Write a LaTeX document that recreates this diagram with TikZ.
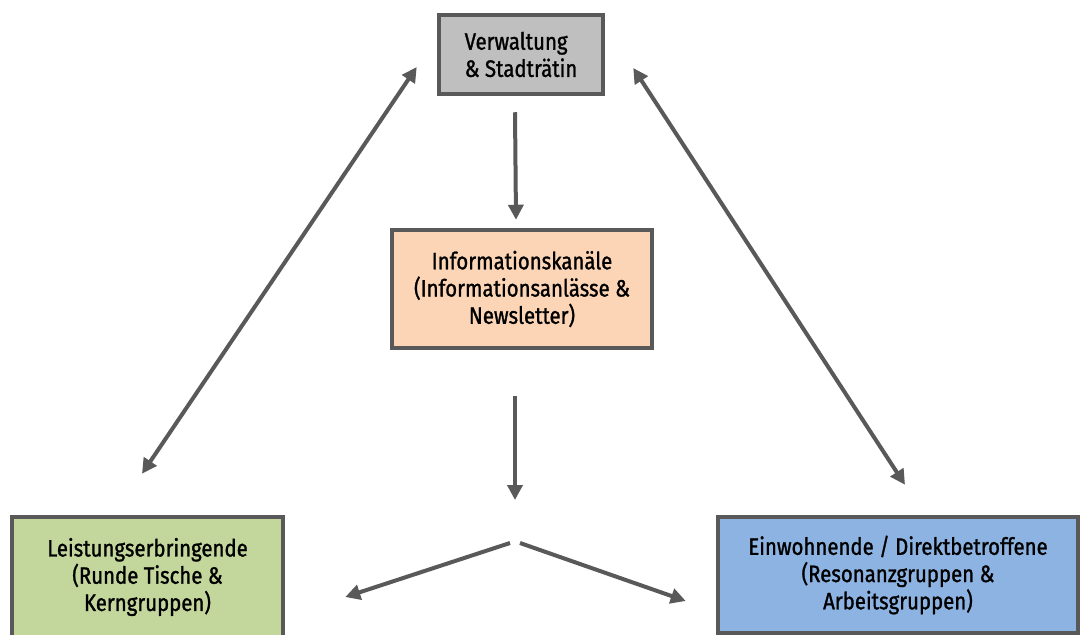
\documentclass[tikz,border=0pt]{standalone}
\usepackage{fontspec}
\setmainfont{Fira Sans}[FakeStretch=0.86,FakeBold=1.2]
\usepackage{tikz}
\usetikzlibrary{arrows.meta}
\definecolor{rahmen}{HTML}{595959}
\definecolor{grau}{HTML}{BFBFBF}
\definecolor{pfirsich}{HTML}{FBD5B5}
\definecolor{gruen}{HTML}{C3D69B}
\definecolor{blau}{HTML}{8DB3E2}
\newcommand{\arw}{-{Triangle[length=3mm,width=3mm]}}
\newcommand{\darw}{{Triangle[length=3mm,width=3mm]}-{Triangle[length=3mm,width=3mm]}}

\begin{document}
\begin{tikzpicture}[x=.02cm,y=-.02cm,
  box/.style={draw=rahmen,line width=.09cm,inner sep=0pt,align=center,
    font=\fontsize{13.5}{15.5}\selectfont},
  pfeil/.style={draw=rahmen,line width=.08cm}]
\useasboundingbox (0,0) rectangle (1082,635);
%Akteure
\node[box,fill=grau,align=left,minimum width=164*.02cm,minimum height=79*.02cm] (verw) at (521,54.5) {Verwaltung\\\& Stadträtin};
\node[box,fill=pfirsich,minimum width=260*.02cm,minimum height=118*.02cm] (info) at (522,289) {Informationskanäle\\(Informationsanlässe \&\\Newsletter)};
\node[box,fill=gruen,minimum width=271*.02cm,minimum height=120*.02cm] (leist) at (147.5,577) {Leistungserbringende\\(Runde Tische \&\\Kerngruppen)};
\node[box,fill=blau,minimum width=360*.02cm,minimum height=116*.02cm] (einw) at (898,575) {Einwohnende / Direktbetroffene\\(Resonanzgruppen \&\\Arbeitsgruppen)};
\coordinate (hub) at (515,520);
%Verbindungen
\draw[pfeil,\darw] ([shift={(-5.5,-41)}]leist.north) -- ([shift={(-20,12.5)}]verw.west);
\draw[pfeil,\darw] ([shift={(28,13.5)}]verw.east) -- ([shift={(7,-30)}]einw.north);
\draw[pfeil,\arw] ([shift={(-6,16)}]verw.south) -- ([shift={(-6,-8)}]info.north);
\draw[pfeil,\arw] ([shift={(-7,46)}]info.south) -- ([shift={(0,-20)}]hub);
\draw[pfeil,\arw] ([shift={(-5,23)}]hub) -- ([shift={(60,20)}]leist.east);
\draw[pfeil,\arw] ([shift={(5,23)}]hub) -- ([shift={(-30,26)}]einw.west);
\end{tikzpicture}
\end{document}
